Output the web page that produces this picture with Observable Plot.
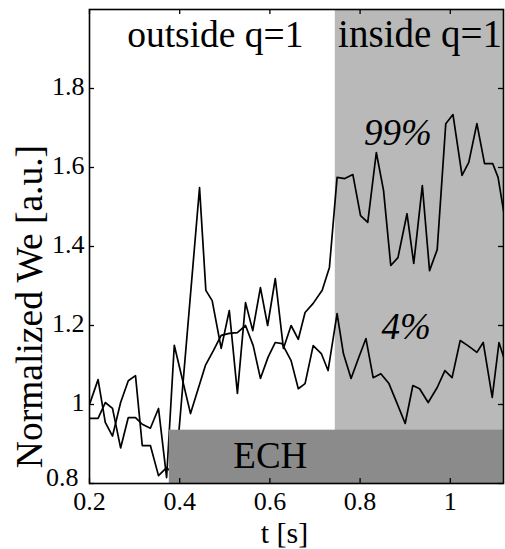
<!DOCTYPE html>
<html>
<head>
<meta charset="utf-8">
<script src="https://cdn.jsdelivr.net/npm/d3@7"></script>
<script src="https://cdn.jsdelivr.net/npm/@observablehq/plot@0.6"></script>
<style>
  html, body { margin: 0; padding: 0; background: white; }
</style>
</head>
<body>
<div id="chart"></div>
<script>
// ---- data ----
// 99% deposition (time [s], normalized We)
const t99 = [0.200,0.219,0.235,0.251,0.269,0.286,0.302,0.317,0.335,0.353,0.371,0.390,0.444,0.458,0.472,0.492,0.510,0.528,0.546,0.562,0.579,0.595,0.612,0.630,0.647,0.663,0.678,0.696,0.716,0.732,0.749,0.766,0.784,0.801,0.817,0.836,0.852,0.868,0.884,0.904,0.919,0.938,0.954,0.971,0.990,1.006,1.026,1.041,1.059,1.076,1.094,1.106,1.121];
const w99 = [1.00,1.063,0.955,0.92,1.005,1.06,1.073,0.896,0.896,0.82,0.84,0.82,1.549,1.289,1.263,1.142,1.238,1.028,1.258,1.187,1.296,1.20,1.319,1.142,1.20,1.165,1.233,1.256,1.289,1.347,1.575,1.572,1.582,1.478,1.461,1.638,1.542,1.352,1.372,1.483,1.357,1.554,1.339,1.392,1.711,1.734,1.58,1.613,1.711,1.61,1.61,1.575,1.47];
// 4% deposition
const t4 = [0.200,0.219,0.235,0.251,0.269,0.286,0.302,0.317,0.335,0.353,0.371,0.388,0.424,0.457,0.475,0.492,0.510,0.528,0.546,0.563,0.579,0.596,0.612,0.627,0.647,0.663,0.678,0.696,0.714,0.729,0.749,0.763,0.780,0.796,0.813,0.829,0.846,0.864,0.882,0.900,0.917,0.932,0.951,0.971,0.988,1.004,1.022,1.039,1.059,1.073,1.093,1.108,1.121];
const w4 = [0.965,0.965,1.005,0.99,0.89,0.967,0.967,0.95,0.94,0.99,0.815,1.15,0.977,1.099,1.137,1.175,1.18,1.182,1.20,1.149,1.066,1.12,1.157,1.154,1.111,1.04,1.053,1.149,1.129,1.086,1.23,1.129,1.066,1.116,1.167,1.068,1.078,1.053,1.003,0.952,1.048,1.04,1.005,1.043,1.086,1.068,1.162,1.149,1.132,1.157,1.018,1.157,1.111];
// regions
const insideStart = [0.745];   // inside q=1 region begins (s)
const echStart = [0.377];      // ECH on (s)
const echTop = [0.935];        // height of ECH bar in We units
const xDomain = [0.2, 1.118];
const yDomain = [0.8, 2.0];
const xTicks = [0.2, 0.4, 0.6, 0.8, 1];
const yTicks = [0.8, 1, 1.2, 1.4, 1.6, 1.8];

const s99 = t99.map((t, i) => ({t, w: w99[i]}));
const s4 = t4.map((t, i) => ({t, w: w4[i]}));
const insideRect = [{x1: insideStart[0], x2: xDomain[1], y1: yDomain[0], y2: yDomain[1]}];
const echRect = [{x1: echStart[0], x2: xDomain[1], y1: yDomain[0], y2: echTop[0]}];

const W = 505, H = 549, mL = 89, mR = 2, mT = 9, mB = 66;
const pw = W - mL - mR, ph = H - mT - mB;

const chart = Plot.plot({
  width: W, height: H,
  marginLeft: mL, marginRight: mR, marginTop: mT, marginBottom: mB,
  style: {fontFamily: "'Liberation Serif', 'DejaVu Serif', serif", fontSize: "26px", background: "white", color: "black"},
  x: {domain: xDomain, label: null},
  y: {domain: yDomain, label: null},
  marks: [
    Plot.rect(insideRect, {x1: "x1", x2: "x2", y1: "y1", y2: "y2", fill: "#b9b9b9"}),
    Plot.line(s99, {x: "t", y: "w", stroke: "black", strokeWidth: 1.7, clip: true}),
    Plot.line(s4, {x: "t", y: "w", stroke: "black", strokeWidth: 1.7, clip: true}),
    Plot.rect(echRect, {x1: "x1", x2: "x2", y1: "y1", y2: "y2", fill: "#8b8b8b"}),
    Plot.text(["ECH"], {x: 0.601, y: 0.838, text: d => d, fontSize: 37, lineAnchor: "bottom"}),
    Plot.text(["outside q=1"], {x: 0.479, y: 1.904, text: d => d, fontSize: 37.5, lineAnchor: "bottom"}),
    Plot.text(["inside q=1"], {x: 0.933, y: 1.904, text: d => d, fontSize: 39, lineAnchor: "bottom"}),
    Plot.text(["99%"], {x: 0.884, y: 1.656, text: d => d, fontSize: 37, fontStyle: "italic", lineAnchor: "bottom"}),
    Plot.text(["4%"], {x: 0.902, y: 1.167, text: d => d, fontSize: 37, fontStyle: "italic", lineAnchor: "bottom"}),
    // inward tick marks on all four sides
    Plot.tickX(xTicks, {x: d => d, insetTop: ph - 5, stroke: "black", strokeWidth: 1.3}),
    Plot.tickX(xTicks, {x: d => d, insetBottom: ph - 5, stroke: "black", strokeWidth: 1.3}),
    Plot.tickY(yTicks, {y: d => d, insetRight: pw - 5, stroke: "black", strokeWidth: 1.3}),
    Plot.tickY(yTicks, {y: d => d, insetLeft: pw - 5, stroke: "black", strokeWidth: 1.3}),
    Plot.frame({stroke: "black", strokeWidth: 1.6}),
    Plot.axisX({ticks: xTicks, tickSize: 0, tickPadding: 8, tickFormat: d => String(d), label: null}),
    Plot.axisY({ticks: yTicks.slice(1), tickSize: 0, tickPadding: 5, dy: -2, tickFormat: d => String(d), label: null}),
    Plot.axisY({ticks: yTicks.slice(0, 1), tickSize: 0, tickPadding: 5, dx: -6, dy: -6, tickFormat: d => String(d), label: null}),
    Plot.text(["Normalized We [a.u.]"], {frameAnchor: "left", textAnchor: "middle", text: d => d, rotate: -90, dx: -60, dy: 60, fontSize: 37.5}),
    Plot.text(["t [s]"], {frameAnchor: "bottom", textAnchor: "middle", lineAnchor: "bottom", text: d => d, dx: -12, dy: 59, fontSize: 30})
  ]
});
document.getElementById("chart").appendChild(chart);
</script>
</body>
</html>
